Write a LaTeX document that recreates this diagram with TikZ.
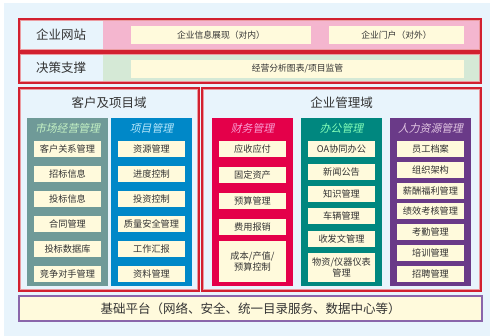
\documentclass[tikz,border=0pt]{standalone}
\usepackage{fontspec}
\setmainfont{Noto Sans CJK SC}[AutoFakeSlant=0.22]
\definecolor{bgblue}{HTML}{E8F4FC}
\definecolor{pinkarea}{HTML}{F4B6CF}
\definecolor{greenarea}{HTML}{D5E9D6}
\definecolor{itemyel}{HTML}{FFFADC}
\definecolor{redline}{HTML}{D2202F}
\definecolor{colgrey}{HTML}{6F9A98}
\definecolor{colblue}{HTML}{0088C8}
\definecolor{colred}{HTML}{E4004A}
\definecolor{colteal}{HTML}{00877F}
\definecolor{colpurple}{HTML}{6A3A88}
\definecolor{platline}{HTML}{8A66AA}
\definecolor{txt}{HTML}{333333}
\newcommand\mybox[7][]{\node[#1, minimum width={(#5-#3)*1pt}, minimum height={(#6-#4)*1pt}] (#2) at ({(#3+#5)/2},{-(#4+#6)/2}) {#7};}
\tikzset{
  base/.style={inner sep=0pt, outer sep=0pt, text=txt, align=center},
  item/.style={base, fill=itemyel, font=\fontsize{9.2}{9.4}\selectfont},
  topitem/.style={base, fill=itemyel, font=\fontsize{8.8}{9}\selectfont},
  col/.style={base, anchor=center},
  redbox/.style={base, draw=redline, line width=1.2pt},
  redinner/.style={draw=redline!45, line width=0.6pt},
  coltitle/.style={font=\fontsize{10.8}{11}\selectfont\itshape, inner sep=0pt},
  bigtitle/.style={font=\fontsize{12.5}{13}\selectfont, text=txt, inner sep=0pt},
}
\begin{document}
\begin{tikzpicture}[x=1pt,y=1pt]
\useasboundingbox (0,0) rectangle (490,-336);
\fill[white] (0,0) rectangle (490,-336);
\fill[bgblue] (4,-3) rectangle (490,-336);
% row 1
\fill[bgblue] (19,-19) rectangle (103,-51);
\fill[pinkarea] (103,-19) rectangle (481,-51);
\mybox[redbox]{web}{19}{19}{481}{51}{}
\draw[redinner] (20.6,-20.6) rectangle (479.4,-49.4);
\node[bigtitle] (webt) at (61,-35) {企业网站};
\mybox[topitem]{web1}{131}{26}{311}{44}{企业信息展现（对内）}
\mybox[topitem]{web2}{329}{26}{464}{44}{企业门户（对外）}
% row 2
\fill[bgblue] (19,-53) rectangle (103,-83);
\fill[greenarea] (103,-53) rectangle (481,-83);
\mybox[redbox]{dec}{19}{53}{481}{83}{}
\draw[redinner] (20.6,-54.6) rectangle (479.4,-81.4);
\node[bigtitle] (dect) at (61,-68) {决策支撑};
\mybox[topitem]{dec1}{131}{60}{464}{78}{经营分析图表/项目监管}
% domains
\mybox[redbox, fill=bgblue]{dl}{19}{88}{199}{291}{}
\draw[redinner] (20.6,-89.6) rectangle (197.4,-289.4);
\mybox[redbox, fill=bgblue]{dr}{202}{88}{481}{291}{}
\draw[redinner] (203.6,-89.6) rectangle (479.4,-289.4);
\node[bigtitle] (dlt) at (109,-103) {客户及项目域};
\node[bigtitle] (drt) at (341.5,-103) {企业管理域};
% columns
\mybox[col, fill=colgrey]{c1}{27}{118}{108}{286}{}
\mybox[col, fill=colblue]{c2}{111}{118}{192}{286}{}
\mybox[col, fill=colred]{c3}{212}{118}{293}{286}{}
\mybox[col, fill=colteal]{c4}{301}{118}{382}{286}{}
\mybox[col, fill=colpurple]{c5}{390}{118}{471}{286}{}
\node[coltitle, text=white!80!green!90!gray] (c1t) at (67.5,-128) {市场经营管理};
\node[coltitle, text=white!72!cyan] (c2t) at (151.5,-128) {项目管理};
\node[coltitle, text=white!62!magenta] (c3t) at (252.5,-128) {财务管理};
\node[coltitle, text=white!65!green!80!cyan] (c4t) at (341.5,-128) {办公管理};
\node[coltitle, text=white!78!violet] (c5t) at (430.5,-128) {人力资源管理};
% column 1 items
\mybox[item]{a1}{34}{141}{101}{157}{客户关系管理}
\mybox[item]{a2}{34}{166}{101}{182}{招标信息}
\mybox[item]{a3}{34}{191}{101}{207}{投标信息}
\mybox[item]{a4}{34}{216}{101}{232}{合同管理}
\mybox[item]{a5}{34}{241}{101}{257}{投标数据库}
\mybox[item]{a6}{34}{266}{101}{282}{竞争对手管理}
% column 2 items
\mybox[item]{b1}{118}{141}{185}{157}{资源管理}
\mybox[item]{b2}{118}{166}{185}{182}{进度控制}
\mybox[item]{b3}{118}{191}{185}{207}{投资控制}
\mybox[item]{b4}{118}{216}{185}{232}{质量安全管理}
\mybox[item]{b5}{118}{241}{185}{257}{工作汇报}
\mybox[item]{b6}{118}{266}{185}{282}{资料管理}
% finance
\mybox[item]{f1}{219}{141}{286}{157}{应收应付}
\mybox[item]{f2}{219}{167}{286}{183}{固定资产}
\mybox[item]{f3}{219}{193}{286}{209}{预算管理}
\mybox[item]{f4}{219}{219}{286}{235}{费用报销}
\mybox[item]{f5}{219}{241}{286}{282}{成本/产值/\\预算控制}
% office
\mybox[item]{o1}{308}{141}{375}{157}{OA协同办公}
\mybox[item]{o2}{308}{164}{375}{180}{新闻公告}
\mybox[item]{o3}{308}{186}{375}{202}{知识管理}
\mybox[item]{o4}{308}{208}{375}{224}{车辆管理}
\mybox[item]{o5}{308}{231}{375}{247}{收发文管理}
\mybox[item]{o6}{308}{253}{375}{282}{物资/仪器仪表\\管理}
% HR
\mybox[item]{h1}{397}{141}{464}{157}{员工档案}
\mybox[item]{h2}{397}{162}{464}{178}{组织架构}
\mybox[item]{h3}{397}{183}{464}{199}{薪酬福利管理}
\mybox[item]{h4}{397}{203}{464}{219}{绩效考核管理}
\mybox[item]{h5}{397}{224}{464}{240}{考勤管理}
\mybox[item]{h6}{397}{245}{464}{261}{培训管理}
\mybox[item]{h7}{397}{266}{464}{282}{招聘管理}
% platform
\mybox[base, fill=itemyel, draw=platline, line width=1.3pt, font=\fontsize{12.5}{13}\selectfont]{plat}{19}{296}{482}{321}{基础平台（网络、安全、统一目录服务、数据中心等）}
\end{tikzpicture}
\end{document}
